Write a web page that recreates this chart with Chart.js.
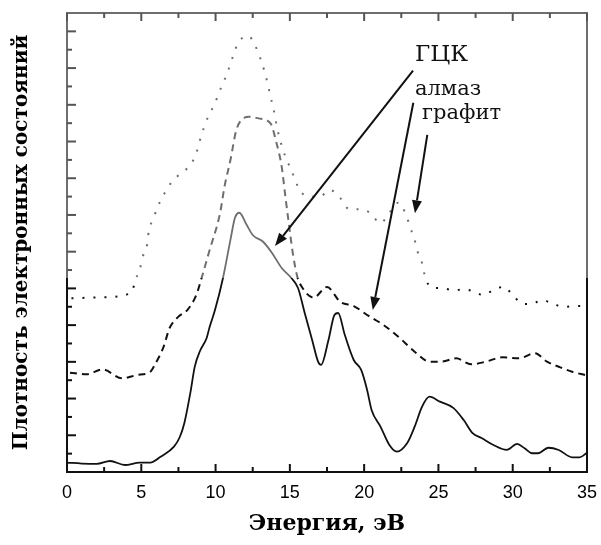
<!DOCTYPE html>
<html><head><meta charset="utf-8">
<script src="https://cdn.jsdelivr.net/npm/chart.js@4/dist/chart.umd.min.js"></script>
<style>html,body{margin:0;padding:0;background:#fff}</style>
</head><body>
<canvas id="c" width="601" height="545"></canvas>
<script>
// ---- data (energy in eV, density of states in arbitrary units) ----
const xTickLabels = [0,5,10,15,20,25,30,35];

const fccE = [0,1,2,2.9,3.9,4.9,5.6,6.3,7.2,7.6,7.9,8.3,8.6,8.95,9.4,9.6,9.96,10.5,11.0,11.3,11.6,12.1,12.5,13.2,13.8,14.45,15.1,15.55,16.0,16.5,16.9,17.1,17.6,18.0,18.25,18.7,19.3,19.8,20.2,20.5,21.1,21.7,22.2,22.9,23.4,23.9,24.4,25.1,26.0,26.7,27.3,27.9,28.7,29.6,30.3,30.8,31.3,31.7,32.4,33.1,34.0,34.5,35];
const fccY = [0.51,0.46,0.44,0.60,0.38,0.51,0.51,0.83,1.38,1.92,2.67,4.30,5.74,6.59,7.30,7.90,8.82,10.57,12.64,13.83,14.12,13.45,12.91,12.54,11.93,11.11,10.57,10.02,8.66,7.19,6.01,5.83,7.19,8.55,8.66,7.46,6.10,5.56,4.47,3.38,2.47,1.47,1.11,1.58,2.47,3.56,4.10,3.83,3.49,2.83,2.12,1.85,1.47,1.20,1.53,1.29,1.02,1.02,1.32,1.20,0.80,0.80,1.05];

const diamondE = [0.2,1.3,2.4,3.7,4.7,5.6,5.9,6.5,6.9,7.5,8.1,8.7,9.1,9.6,10.3,10.6,11.0,11.4,12.0,12.2,12.9,13.7,14.1,14.45,14.7,14.9,15.2,15.5,15.8,16.6,17.5,18.4,19.3,20.3,21.3,22.3,23.4,24.4,25.2,26.2,27.2,28.2,29.3,30.4,31.5,32.3,33.2,34.0,34.9];
const diamondY = [5.41,5.32,5.59,5.10,5.28,5.46,5.83,6.82,7.83,8.46,8.82,9.64,10.68,12.09,14.09,15.54,16.99,18.63,19.32,19.35,19.26,18.99,17.92,16.63,14.99,13.73,11.91,10.64,10.09,9.50,10.08,9.26,9.04,8.50,8.01,7.37,6.55,6.01,6.01,6.19,5.87,6.01,6.25,6.19,6.47,6.01,5.70,5.46,5.28];

const graphiteE = [0.3,2.4,4.35,4.6,4.9,5.1,5.4,5.5,5.8,6.1,6.5,7.0,7.6,8.3,8.7,8.95,9.2,9.5,9.96,10.25,10.6,10.9,11.2,11.5,11.8,12.2,12.7,13.05,13.3,13.5,13.7,13.9,14.2,14.7,15.1,15.4,15.8,17.0,17.7,18.4,19.0,19.7,20.4,21.1,21.7,22.3,22.8,23.1,23.4,23.6,23.9,24.1,24.5,25.3,26.0,26.7,27.3,28.0,28.7,29.4,30.0,30.7,31.4,32.0,32.7,33.5,34.2,34.9];
const graphiteY = [9.46,9.52,9.77,10.46,11.04,11.73,12.42,13.09,13.78,14.43,15.09,15.74,16.23,16.72,17.36,18.08,18.72,19.35,20.08,20.71,21.35,21.99,22.71,23.35,23.64,23.75,23.16,22.44,21.80,21.17,20.44,19.77,18.53,17.17,16.45,15.81,15.18,14.99,15.36,14.91,14.31,14.31,14.12,13.55,14.12,14.67,14.05,13.32,12.64,12.00,11.37,10.65,10.06,10.01,9.89,9.95,9.86,9.64,9.91,10.09,9.64,9.15,9.19,9.37,9.15,9.00,9.04,9.04];

// ---- annotations (in data units) ----
const annText   = ['ГЦК','алмаз','графит'];
const annTextE  = [23.42, 23.42, 23.9];
const annTextY  = [22.71, 20.81, 19.5];
const arrowFromE = [23.29, 23.31, 24.25];
const arrowFromY = [21.86, 20.11, 18.36];
const arrowToE   = [14.0, 20.58, 23.42];
const arrowToY   = [12.31, 8.82, 14.09];

const pts = (xs, ys) => xs.map((x, i) => ({x, y: ys[i]}));

const SPLIT = 10.57; // image gets greyer above this level
function splitColor(ctx){
  const ch = ctx.chart;
  const ca = ch.chartArea;
  if (!ca) return '#111';
  const yb = ch.scales.y.getPixelForValue(SPLIT);
  const g = ch.ctx.createLinearGradient(0, 0, 0, ch.height);
  const t = Math.min(1, Math.max(0, yb / ch.height));
  g.addColorStop(0, '#6e6e6e'); g.addColorStop(t, '#6e6e6e');
  g.addColorStop(t, '#111'); g.addColorStop(1, '#111');
  return g;
}

const framePlugin = {
  id: 'frame',
  afterDatasetsDraw(chart){
    const {ctx, chartArea: a, scales: {x, y}} = chart;
    const yb = y.getPixelForValue(SPLIT);
    ctx.save();
    ctx.lineCap = 'butt';
    // frame
    ctx.lineWidth = 2;
    ctx.strokeStyle = '#6e6e6e';
    ctx.beginPath();
    ctx.moveTo(a.left, yb); ctx.lineTo(a.left, a.top); ctx.lineTo(a.right, a.top); ctx.lineTo(a.right, yb);
    ctx.stroke();
    ctx.strokeStyle = '#111';
    ctx.beginPath();
    ctx.moveTo(a.left, yb); ctx.lineTo(a.left, a.bottom); ctx.lineTo(a.right, a.bottom); ctx.lineTo(a.right, yb);
    ctx.stroke();
    // x ticks (inward, top and bottom)
    for (let v = x.min; v <= x.max + 1e-9; v += 2.5) {
      const px = x.getPixelForValue(v);
      const major = Math.abs(v % 5) < 1e-9;
      const len = major ? 8 : 5;
      ctx.strokeStyle = '#111';
      ctx.beginPath(); ctx.moveTo(px, a.bottom); ctx.lineTo(px, a.bottom - len); ctx.stroke();
      ctx.strokeStyle = '#555';
      ctx.beginPath(); ctx.moveTo(px, a.top); ctx.lineTo(px, a.top + len); ctx.stroke();
    }
    // y ticks (inward, left only)
    for (let v = y.min + 1; v < y.max; v += 1) {
      const py = y.getPixelForValue(v);
      const len = (v % 2 === 0) ? 9 : 5;
      ctx.strokeStyle = py < yb ? '#555' : '#111';
      ctx.beginPath(); ctx.moveTo(a.left, py); ctx.lineTo(a.left + len, py); ctx.stroke();
    }
    // annotation arrows
    ctx.strokeStyle = '#111'; ctx.fillStyle = '#111'; ctx.lineWidth = 2;
    for (let i = 0; i < arrowFromE.length; i++) {
      const x0 = x.getPixelForValue(arrowFromE[i]), y0 = y.getPixelForValue(arrowFromY[i]);
      const x1 = x.getPixelForValue(arrowToE[i]),   y1 = y.getPixelForValue(arrowToY[i]);
      const ang = Math.atan2(y1 - y0, x1 - x0);
      const hl = 13, hw = 5;
      const bx = x1 - hl * Math.cos(ang), by = y1 - hl * Math.sin(ang);
      ctx.beginPath(); ctx.moveTo(x0, y0); ctx.lineTo(bx, by); ctx.stroke();
      ctx.beginPath();
      ctx.moveTo(x1, y1);
      ctx.lineTo(bx + hw * Math.sin(ang), by - hw * Math.cos(ang));
      ctx.lineTo(bx - hw * Math.sin(ang), by + hw * Math.cos(ang));
      ctx.closePath(); ctx.fill();
    }
    // annotation labels
    ctx.textBaseline = 'middle'; ctx.textAlign = 'left';
    const fonts = ['23px "DejaVu Serif"', '21px "DejaVu Serif"', '21px "DejaVu Serif"'];
    for (let i = 0; i < annText.length; i++) {
      ctx.font = fonts[i];
      ctx.fillText(annText[i], x.getPixelForValue(annTextE[i]), y.getPixelForValue(annTextY[i]));
    }
    ctx.restore();
  }
};

new Chart(document.getElementById('c'), {
  type: 'line',
  data: {
    datasets: [
      { label: 'ГЦК', data: pts(fccE, fccY), borderColor: splitColor, borderWidth: 1.8, pointRadius: 0, cubicInterpolationMode: 'monotone' },
      { label: 'алмаз', data: pts(diamondE, diamondY), borderColor: splitColor, borderWidth: 2, borderDash: [7, 5], pointRadius: 0, cubicInterpolationMode: 'monotone' },
      { label: 'графит', data: pts(graphiteE, graphiteY), borderColor: splitColor, borderWidth: 2, borderDash: [2, 9], pointRadius: 0, cubicInterpolationMode: 'monotone' }
    ]
  },
  options: {
    responsive: false,
    devicePixelRatio: 1,
    animation: false,
    layout: { padding: { left: 0, right: 14, top: 13, bottom: 0 } },
    plugins: { legend: { display: false }, tooltip: { enabled: false } },
    scales: {
      x: {
        type: 'linear', min: 0, max: 35,
        afterBuildTicks: s => { s.ticks = xTickLabels.map(v => ({value: v})); },
        afterFit: s => { s.height = 73; s.paddingLeft = 0; s.paddingRight = 0; },
        grid: { display: false, drawTicks: false },
        border: { display: false },
        ticks: { color: '#000', padding: 10, maxRotation: 0, font: { family: '"Liberation Sans", Arial', size: 18 } },
        title: { display: true, text: 'Энергия, эВ', color: '#000', padding: { top: 0, bottom: 8 }, font: { family: '"DejaVu Serif"', size: 22, weight: 'bold' } }
      },
      y: {
        type: 'linear', min: 0, max: 25,
        afterFit: s => { s.width = 67; s.paddingTop = 0; s.paddingBottom = 0; },
        grid: { display: false, drawTicks: false },
        border: { display: false },
        ticks: { display: false, stepSize: 1 },
        title: { display: true, text: 'Плотность электронных состояний', color: '#000', padding: { top: 10, bottom: 0 }, font: { family: '"DejaVu Serif"', size: 20, weight: 'bold' } }
      }
    }
  },
  plugins: [framePlugin]
});
</script>
</body></html>
